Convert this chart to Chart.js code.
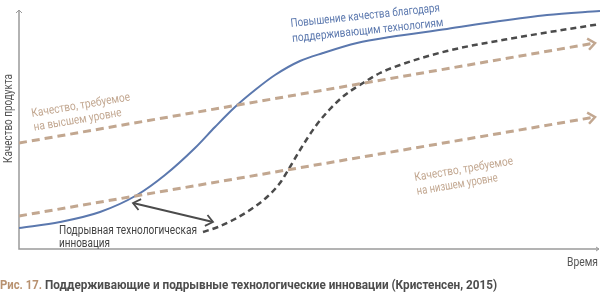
<!DOCTYPE html>
<html lang="ru">
  <head>
    <title>Поддерживающие и подрывные инновации</title>
    <style>
      html, body { margin: 0; padding: 0; background: #fff; }
      #wrap { position: relative; width: 600px; height: 293px; }
    </style>
  </head>
  <body>
    <div id="wrap">
      <canvas id="myChart"></canvas>
    </div>

    <script src="https://cdn.jsdelivr.net/npm/chart.js"></script>

    <script>
      // values (time / quality, arbitrary units)
      const timeSustaining = [0, 41, 81, 118, 146, 176, 196, 216, 236, 256, 281, 304, 338, 371, 428, 474, 528, 581];
      const qualitySustaining = [21, 27, 37, 54, 74, 101, 122, 142, 159, 174, 188, 196, 206, 212, 220, 227, 234, 238];

      const timeDisruptive = [184, 199, 214, 231, 248, 261, 271, 281, 296, 311, 326, 344, 361, 381, 428, 501, 581];
      const qualityDisruptive = [17, 22, 29, 39, 52, 66, 82, 99, 122, 140, 154, 166, 176, 184, 198, 212, 225];

      const timeDemand = [0, 576];
      const demandHigh = [106, 206];
      const demandLow = [33, 132];

      const timeGap = [114, 194];
      const qualityGap = [46, 27];

      const blue = "#5b78ae";
      const tan = "#c2a790";
      const dark = "#4b4b4b";

      function pts(xs, ys) {
        return xs.map((x, i) => ({ x: x, y: ys[i] }));
      }

      function chevron(ctx, x, y, ang, size, color, width) {
        ctx.save();
        ctx.translate(x, y);
        ctx.rotate(ang);
        ctx.strokeStyle = color;
        ctx.lineWidth = width;
        ctx.setLineDash([]);
        ctx.beginPath();
        ctx.moveTo(-size, -size * 0.8);
        ctx.lineTo(0, 0);
        ctx.lineTo(-size, size * 0.8);
        ctx.stroke();
        ctx.restore();
      }

      function label(ctx, lines, x, y, ang, color, font, widths, lh) {
        ctx.save();
        ctx.translate(x, y);
        ctx.rotate(ang * Math.PI / 180);
        ctx.fillStyle = color;
        ctx.font = font;
        ctx.textBaseline = "alphabetic";
        ctx.textAlign = "left";
        lines.forEach((t, i) => ctx.fillText(t, 0, i * lh, widths[i]));
        ctx.restore();
      }

      const decor = {
        id: "decor",
        beforeDatasetsDraw(chart) {
          const ctx = chart.ctx;
          const a = chart.chartArea;
          ctx.save();
          ctx.strokeStyle = "#9a9a9a";
          ctx.lineWidth = 1.5;
          ctx.beginPath();
          ctx.moveTo(a.left, 10);
          ctx.lineTo(a.left, a.bottom);
          ctx.lineTo(599, a.bottom);
          ctx.stroke();
          ctx.lineWidth = 1;
          ctx.beginPath();
          ctx.moveTo(a.left - 3, 13);
          ctx.lineTo(a.left, 10);
          ctx.lineTo(a.left + 3, 13);
          ctx.moveTo(596, a.bottom - 2);
          ctx.lineTo(599, a.bottom);
          ctx.lineTo(596, a.bottom + 2);
          ctx.stroke();
          ctx.restore();
        },
        afterDatasetsDraw(chart) {
          const ctx = chart.ctx;
          const xs = chart.scales.x, ys = chart.scales.y;

          // arrow heads on the demand lines
          [demandHigh, demandLow].forEach((d) => {
            const x0 = xs.getPixelForValue(timeDemand[0]), y0 = ys.getPixelForValue(d[0]);
            const x1 = xs.getPixelForValue(timeDemand[1]), y1 = ys.getPixelForValue(d[1]);
            chevron(ctx, x1, y1, Math.atan2(y1 - y0, x1 - x0), 7, tan, 2.5);
          });

          // double arrow
          const gx0 = xs.getPixelForValue(timeGap[0]), gy0 = ys.getPixelForValue(qualityGap[0]);
          const gx1 = xs.getPixelForValue(timeGap[1]), gy1 = ys.getPixelForValue(qualityGap[1]);
          const ang = Math.atan2(gy1 - gy0, gx1 - gx0);
          chevron(ctx, gx1, gy1, ang, 7, dark, 1.8);
          chevron(ctx, gx0, gy0, ang + Math.PI, 7, dark, 1.8);

          // texts
          const f = "12px Roboto, 'Liberation Sans Narrow', sans-serif";
          label(ctx, ["Повышение качества благодаря", "поддерживающим технологиям"], 291, 27, -6, blue, f, [150, 152], 15);
          label(ctx, ["Качество, требуемое", "на высшем уровне"], 32, 117, -9.6, tan, f, [100, 89], 14);
          label(ctx, ["Качество, требуемое", "на низшем уровне"], 415, 181, -9.6, tan, f, [100, 82], 14);
          label(ctx, ["Подрывная технологическая", "инновация"], 59, 234, 0, "#444", f, [138, 51], 13);
          label(ctx, ["Время"], 567, 266, 0, "#555", f, [31], 13);
          label(ctx, ["Качество продукта"], 12, 163, -90, "#555", f, [89], 13);

          // caption
          ctx.save();
          ctx.font = "bold 13px Roboto, sans-serif";
          ctx.textBaseline = "alphabetic";
          ctx.fillStyle = "#b8916f";
          ctx.fillText("Рис. 17.", 0, 289, 42);
          ctx.fillStyle = "#4d4d4d";
          ctx.fillText("Поддерживающие и подрывные технологические инновации (Кристенсен, 2015)", 45, 289, 452);
          ctx.restore();
        },
      };

      const ctx = document.getElementById("myChart");
      new Chart(ctx, {
        type: "line",
        data: {
          datasets: [
            {
              label: "Высший уровень",
              data: pts(timeDemand, demandHigh),
              borderColor: tan,
              borderWidth: 3,
              borderDash: [8, 5],
              pointRadius: 0,
            },
            {
              label: "Низший уровень",
              data: pts(timeDemand, demandLow),
              borderColor: tan,
              borderWidth: 3,
              borderDash: [8, 5],
              pointRadius: 0,
            },
            {
              label: "Подрывная",
              data: pts(timeDisruptive, qualityDisruptive),
              borderColor: dark,
              borderWidth: 2.5,
              borderDash: [6, 4],
              pointRadius: 0,
              cubicInterpolationMode: "monotone",
            },
            {
              label: "Поддерживающая",
              data: pts(timeSustaining, qualitySustaining),
              borderColor: blue,
              borderWidth: 2,
              pointRadius: 0,
              cubicInterpolationMode: "monotone",
            },
            {
              label: "Разрыв",
              data: pts(timeGap, qualityGap),
              borderColor: dark,
              borderWidth: 1.8,
              pointRadius: 0,
            },
          ],
        },
        options: {
          responsive: true,
          maintainAspectRatio: false,
          animation: false,
          layout: { padding: { left: 19, right: 0, top: 8, bottom: 44 } },
          plugins: { legend: { display: false }, tooltip: { enabled: false } },
          scales: {
            x: { type: "linear", min: 0, max: 581, display: false },
            y: { min: 0, max: 241, display: false },
          },
        },
        plugins: [decor],
      });
    </script>
  </body>
</html>
